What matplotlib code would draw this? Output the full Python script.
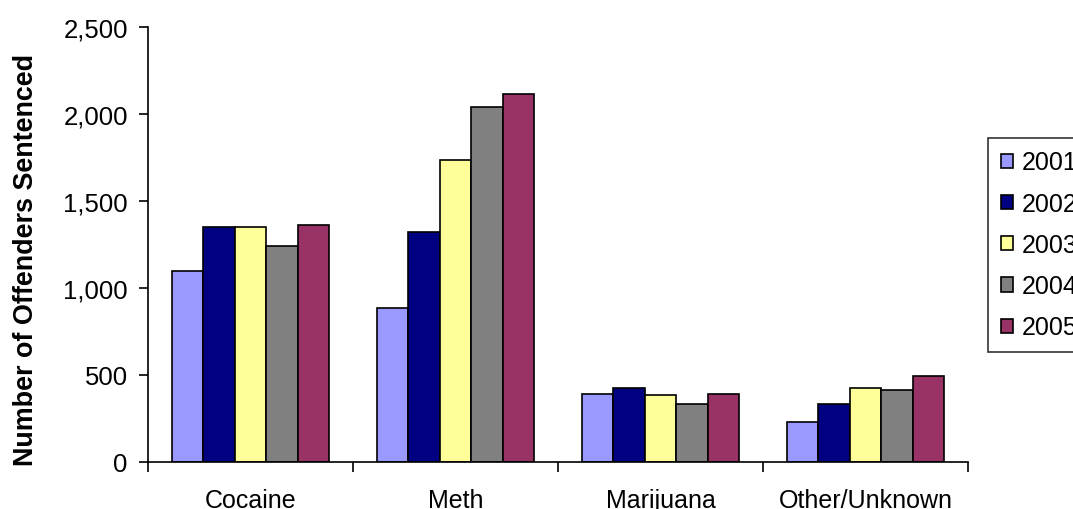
import matplotlib
matplotlib.use('Agg')
import matplotlib.pyplot as plt
import numpy as np

categories = ['Cocaine', 'Meth', 'Marijuana', 'Other/Unknown']
years = ['2001', '2002', '2003', '2004', '2005']
values = {
    '2001': [1100, 883, 388, 230],
    '2002': [1352, 1320, 425, 333],
    '2003': [1352, 1736, 386, 425],
    '2004': [1240, 2042, 333, 416],
    '2005': [1364, 2113, 388, 492],
}
colors = ['#9999FF', '#000080', '#FFFF99', '#808080', '#993366']

plt.rcParams['font.family'] = ['Liberation Sans', 'DejaVu Sans']

fig = plt.figure(figsize=(10.73, 5.10), dpi=100)
ax = fig.add_axes([148 / 1073, 47 / 510, 820 / 1073, 435 / 510])

x = np.arange(len(categories))
w = 0.154
for i, yr in enumerate(years):
    ax.bar(x + (i - 2) * w, values[yr], width=w, color=colors[i],
           edgecolor='black', linewidth=1.2, label=yr)

ax.set_xlim(-0.5, len(categories) - 0.5)
ax.set_ylim(0, 2500)
ax.set_yticks(range(0, 2501, 500))
ax.set_yticklabels([f'{v:,}' for v in range(0, 2501, 500)], fontsize=18.5)
ax.set_xticks(x)
ax.set_xticklabels(categories, fontsize=18)
ax.tick_params(axis='x', which='major', length=0, pad=19)
ax.set_xticks(np.arange(-0.5, len(categories), 1), minor=True)
ax.tick_params(axis='x', which='minor', length=7, width=1.2, direction='out')
ax.tick_params(axis='y', length=6.5, width=1.2, direction='out', pad=8)

for s in ['top', 'right']:
    ax.spines[s].set_visible(False)
for s in ['left', 'bottom']:
    ax.spines[s].set_linewidth(1.2)

ax.set_ylabel('Number of Offenders Sentenced', fontsize=19.4, fontweight='bold')
ax.yaxis.set_label_coords(-0.133, 0.467)

leg = fig.legend(loc='upper left', bbox_to_anchor=(988 / 1073, 1 - 139 / 510),
                 fontsize=18, frameon=True, fancybox=False, shadow=False,
                 handlelength=0.5, handleheight=0.5, handletextpad=0.36,
                 labelspacing=0.69, borderpad=0.5, borderaxespad=0)
leg.get_frame().set_edgecolor('black')
leg.get_frame().set_linewidth(1.2)

plt.savefig('out.png', dpi=100)
